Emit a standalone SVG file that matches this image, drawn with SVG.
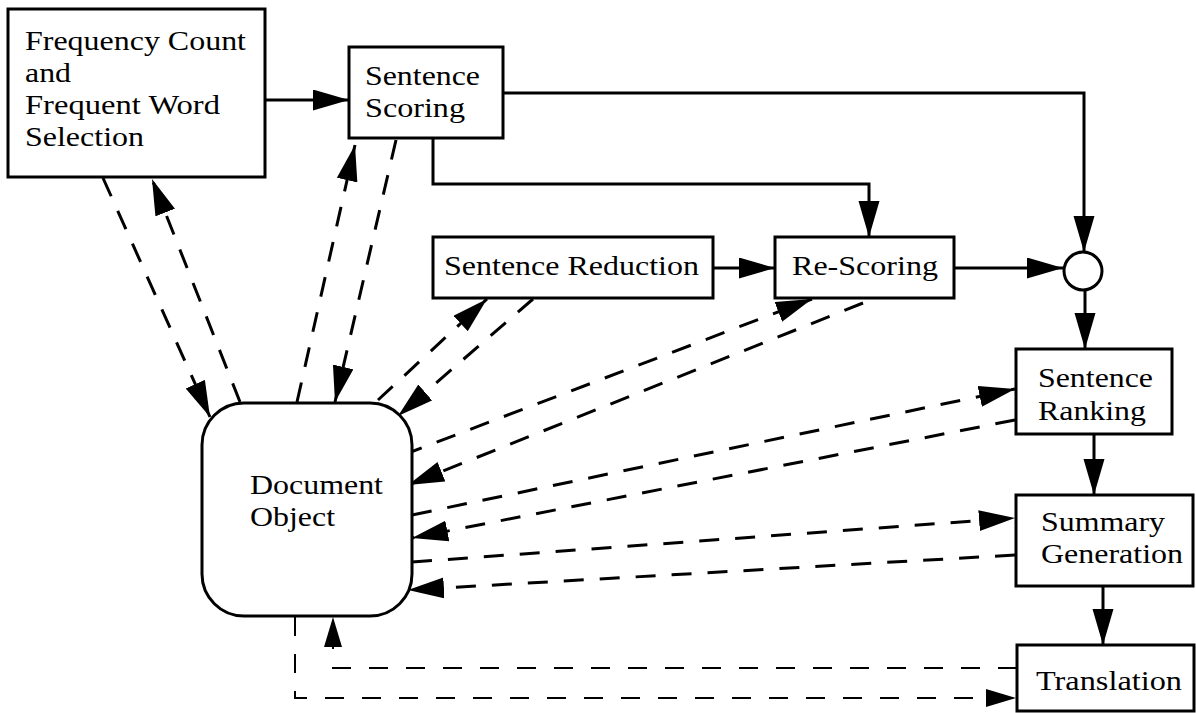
<svg xmlns="http://www.w3.org/2000/svg" width="1196" height="713" viewBox="0 0 1196 713">
<style>
.box{fill:#fff;stroke:#000;stroke-width:3}
.lbl{font-family:"Liberation Serif","Times New Roman",serif;font-size:28px;fill:#000}
.solid{fill:none;stroke:#000;stroke-width:3}
.dash{fill:none;stroke:#000;stroke-width:3;stroke-dasharray:20 16}
.thin{fill:none;stroke:#000;stroke-width:2;stroke-dasharray:19 18}
</style>
<defs>
<marker id="ah" markerUnits="userSpaceOnUse" markerWidth="38" markerHeight="22" refX="36" refY="10.5" orient="auto">
<path d="M0,0 L36,10.5 L0,21 z" fill="#000"/>
</marker>
<marker id="ahs" markerUnits="userSpaceOnUse" markerWidth="32" markerHeight="19" refX="30" refY="9" orient="auto">
<path d="M0,0 L30,9 L0,18 z" fill="#000"/>
</marker>
</defs>
<rect width="1196" height="713" fill="#fff"/>
<g id="connectors">
<path class="solid" d="M265,100 H349" marker-end="url(#ah)"/>
<path class="solid" d="M503,93 H1084 V252" marker-end="url(#ah)"/>
<path class="solid" d="M433,138 V184 H869 V237" marker-end="url(#ah)"/>
<path class="solid" d="M713,268 H775" marker-end="url(#ah)"/>
<path class="solid" d="M954,268 H1063" marker-end="url(#ah)"/>
<path class="solid" d="M1085,290 V349" marker-end="url(#ah)"/>
<path class="solid" d="M1094,434 V495" marker-end="url(#ah)"/>
<path class="solid" d="M1103,586 V645" marker-end="url(#ah)"/>
<path class="dash" d="M103,178 L210,417" marker-end="url(#ah)"/>
<path class="dash" d="M240,402 L152,179" marker-end="url(#ah)"/>
<path class="dash" d="M297,402 L355,145" marker-end="url(#ah)"/>
<path class="dash" d="M396,140 L335,402" marker-end="url(#ah)"/>
<path class="dash" d="M378,400 L487,299" marker-end="url(#ah)"/>
<path class="dash" d="M533,299 L398,416" marker-end="url(#ah)"/>
<path class="dash" d="M403,455 L812,299" marker-end="url(#ah)"/>
<path class="dash" d="M863,303 L408,485" marker-end="url(#ah)"/>
<path class="dash" d="M412,515 L1015,389" marker-end="url(#ah)"/>
<path class="dash" d="M1015,420 L412,538" marker-end="url(#ah)"/>
<path class="dash" d="M412,562 L1015,518" marker-end="url(#ah)"/>
<path class="dash" d="M1015,555 L408,590" marker-end="url(#ah)"/>
<path class="thin" d="M1017,668 H333 V617" marker-end="url(#ahs)"/>
<path class="thin" d="M295,617 V698 H1016" marker-end="url(#ahs)"/>
</g>
<g id="freq">
<rect class="box" x="8" y="9" width="257" height="168"/>
<text class="lbl" x="25" y="50" textLength="221" lengthAdjust="spacingAndGlyphs">Frequency Count</text>
<text class="lbl" x="25" y="82" textLength="46" lengthAdjust="spacingAndGlyphs">and</text>
<text class="lbl" x="25" y="114" textLength="195" lengthAdjust="spacingAndGlyphs">Frequent Word</text>
<text class="lbl" x="25" y="146" textLength="119" lengthAdjust="spacingAndGlyphs">Selection</text>
</g>
<g id="scoring">
<rect class="box" x="349" y="47" width="154" height="91"/>
<text class="lbl" x="365" y="85" textLength="115" lengthAdjust="spacingAndGlyphs">Sentence</text>
<text class="lbl" x="365" y="117" textLength="100" lengthAdjust="spacingAndGlyphs">Scoring</text>
</g>
<g id="reduction">
<rect class="box" x="433" y="237" width="280" height="61"/>
<text class="lbl" x="444" y="275" textLength="255" lengthAdjust="spacingAndGlyphs">Sentence Reduction</text>
</g>
<g id="rescoring">
<rect class="box" x="775" y="237" width="179" height="61"/>
<text class="lbl" x="792" y="275" textLength="146" lengthAdjust="spacingAndGlyphs">Re-Scoring</text>
</g>
<g id="junction">
<circle class="box" cx="1083" cy="271" r="19"/>
</g>
<g id="ranking">
<rect class="box" x="1016" y="349" width="156" height="85"/>
<text class="lbl" x="1038" y="387" textLength="115" lengthAdjust="spacingAndGlyphs">Sentence</text>
<text class="lbl" x="1038" y="420" textLength="108" lengthAdjust="spacingAndGlyphs">Ranking</text>
</g>
<g id="summary">
<rect class="box" x="1016" y="495" width="177" height="91"/>
<text class="lbl" x="1041" y="531" textLength="124" lengthAdjust="spacingAndGlyphs">Summary</text>
<text class="lbl" x="1041" y="563" textLength="142" lengthAdjust="spacingAndGlyphs">Generation</text>
</g>
<g id="translation">
<rect class="box" x="1017" y="645" width="177" height="66"/>
<text class="lbl" x="1036" y="690" textLength="146" lengthAdjust="spacingAndGlyphs">Translation</text>
</g>
<g id="document">
<rect class="box" x="202" y="403" width="210" height="213" rx="42" ry="42"/>
<text class="lbl" x="250" y="494" textLength="133" lengthAdjust="spacingAndGlyphs">Document</text>
<text class="lbl" x="250" y="526" textLength="85" lengthAdjust="spacingAndGlyphs">Object</text>
</g>
</svg>
